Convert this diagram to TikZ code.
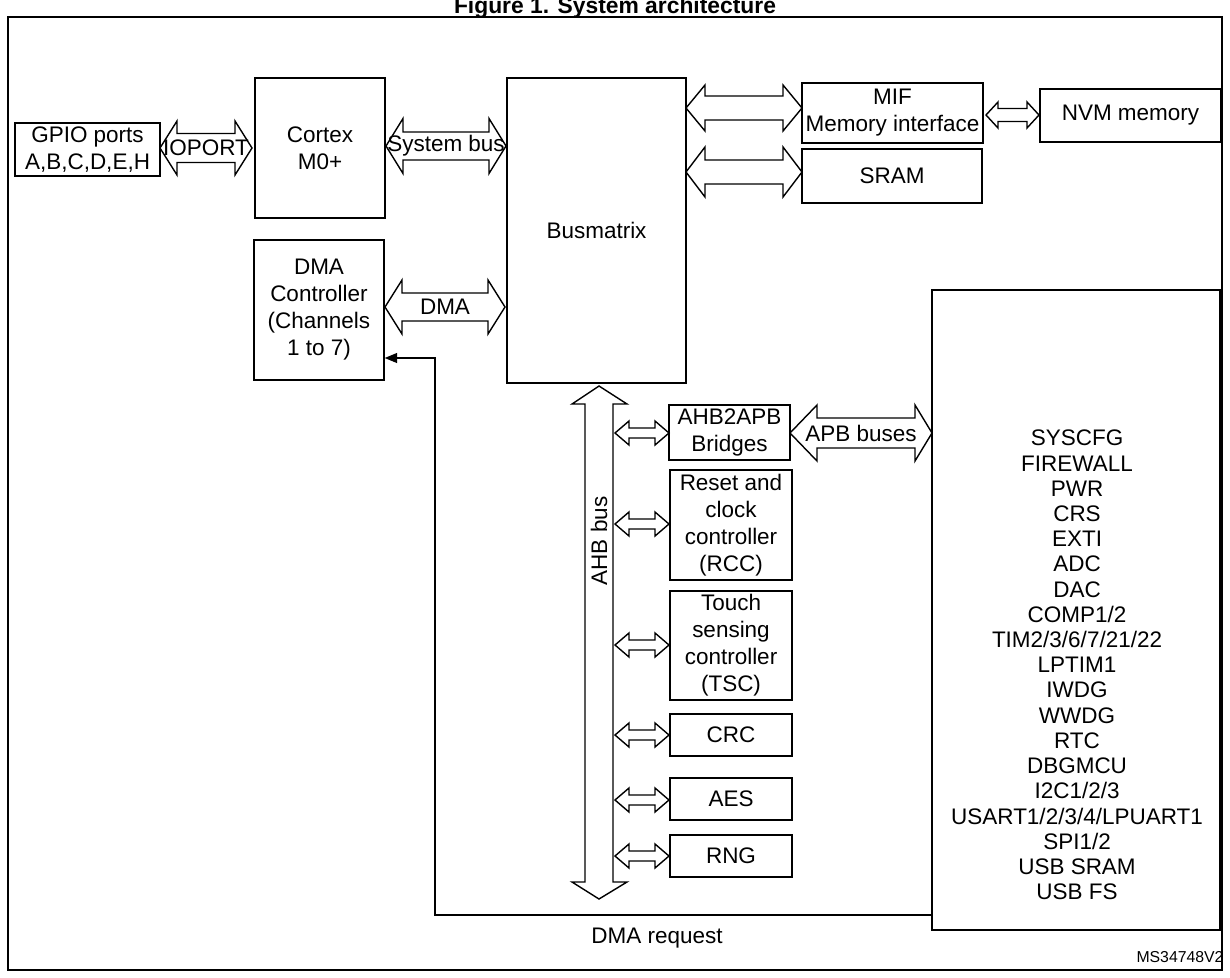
\documentclass[tikz,border=0pt]{standalone}
\usepackage{fontspec}
\setmainfont{Liberation Sans}
\usetikzlibrary{arrows.meta}

% box from corners (x1,y1) (x2,y2) in pixel units
\newcommand\blk[7][]{%
  \pgfmathsetmacro\bw{(#5-#3)*0.02}\pgfmathsetmacro\bh{(#6-#4)*0.02}%
  \node[box,minimum width=\bw cm,minimum height=\bh cm,#1] (#2) at ({(#3+#5)/2},{(#4+#6)/2}) {#7};}
% fat double arrow: x1, x2, y, half shaft, half head, left head, right head, label
\newcommand\fatarrow[8]{%
  \draw[fill=white] (#1,#3) -- (#1+#6,#3-#5) -- (#1+#6,#3-#4) -- (#2-#7,#3-#4) -- (#2-#7,#3-#5)
    -- (#2,#3) -- (#2-#7,#3+#5) -- (#2-#7,#3+#4) -- (#1+#6,#3+#4) -- (#1+#6,#3+#5) -- cycle;
  \node[txt] at ({(#1+#2)/2},#3) {#8};}

\tikzset{
  box/.style={draw,line width=0.8pt,inner sep=0pt,align=center,font=\fontsize{12.8}{15.4}\selectfont},
  txt/.style={inner sep=0pt,font=\fontsize{12.8}{14}\selectfont},
}

\begin{document}
\begin{tikzpicture}[x=0.02cm,y=-0.02cm,line width=0.8pt]
    \useasboundingbox (0,0) rectangle (1230,977);
    % Frame and title
    \draw (8,17) rectangle (1222,970);
    \node[font=\bfseries\fontsize{13}{15}\selectfont] (title) at (615,8) {Figure 1. System architecture};
    % Left column
    \blk{gpio}{15}{123}{160}{176}{GPIO ports\\A,B,C,D,E,H}
    \blk{cortex}{255}{78}{385}{218}{Cortex\\M0+}
    \blk{dma}{254}{240}{384}{380}{DMA\\Controller\\(Channels\\1 to 7)}
    \blk{bus}{507}{78}{686}{383}{Busmatrix}
    \fatarrow{160}{252}{148}{14.5}{27}{17}{17}{IOPORT}
    \fatarrow{386}{506}{146}{14}{27.5}{17}{17}{System bus}
    \fatarrow{385}{505}{307}{14}{27}{17}{17}{DMA}
    % Memories
    \blk{mif}{802}{83}{983}{143}{MIF\\Memory interface}
    \blk{sram}{802}{149}{982}{203}{SRAM}
    \blk{nvm}{1040}{89}{1221}{142}{NVM memory}
    \fatarrow{686}{802}{108}{12}{23}{19}{19}{}
    \fatarrow{686}{802}{172}{12}{25}{19}{19}{}
    \fatarrow{986}{1039}{115}{6.5}{13}{12}{12}{}
    % AHB bus
    \draw[fill=white] (599,386) -- (627,404) -- (613,404) -- (613,882) -- (627,882) -- (599,899)
      -- (572,882) -- (585,882) -- (585,404) -- (572,404) -- cycle;
    \node[txt,rotate=90] (ahb) at (599,541) {AHB bus};
    % AHB peripherals
    \blk{bridge}{669}{405}{790}{460}{AHB2APB\\Bridges}
    \blk{rcc}{670}{470}{792}{580}{Reset and\\clock\\controller\\(RCC)}
    \blk{tsc}{670}{591}{792}{700}{Touch\\sensing\\controller\\(TSC)}
    \blk{crc}{670}{714}{792}{756}{CRC}
    \blk[line width=1.3pt]{aes}{670}{778}{792}{820}{AES}
    \blk{rng}{670}{835}{792}{877}{RNG}
    \foreach \yy in {433,524,645,735,800,856}
      \fatarrow{615}{669}{\yy}{5}{12}{14}{14}{};
    % APB side
    \blk{apb}{932}{290}{1220}{930}{}
    \fatarrow{790}{932}{433}{15}{28}{27}{17}{APB buses}
    \node[txt,align=center,font=\fontsize{12.8}{14.35}\selectfont] (plist) at (1077,665)
      {SYSCFG\\FIREWALL\\PWR\\CRS\\EXTI\\ADC\\DAC\\COMP1/2\\TIM2/3/6/7/21/22\\LPTIM1\\IWDG\\WWDG\\RTC\\DBGMCU\\I2C1/2/3\\USART1/2/3/4/LPUART1\\SPI1/2\\USB SRAM\\USB FS};
    % DMA request
    \coordinate (req) at (932,915);
    \coordinate (corner) at (435,358);
    \draw[-{Triangle[length=0.25cm,width=0.2cm]}] (req) -- (req -| corner) -- (corner) -- (corner -| dma.east);
    \node[txt] (reqlbl) at (657,938) {DMA request};
    \node[txt,font=\fontsize{9}{11}\selectfont] (ref) at (1180,957) {MS34748V2};
\end{tikzpicture}
\end{document}
